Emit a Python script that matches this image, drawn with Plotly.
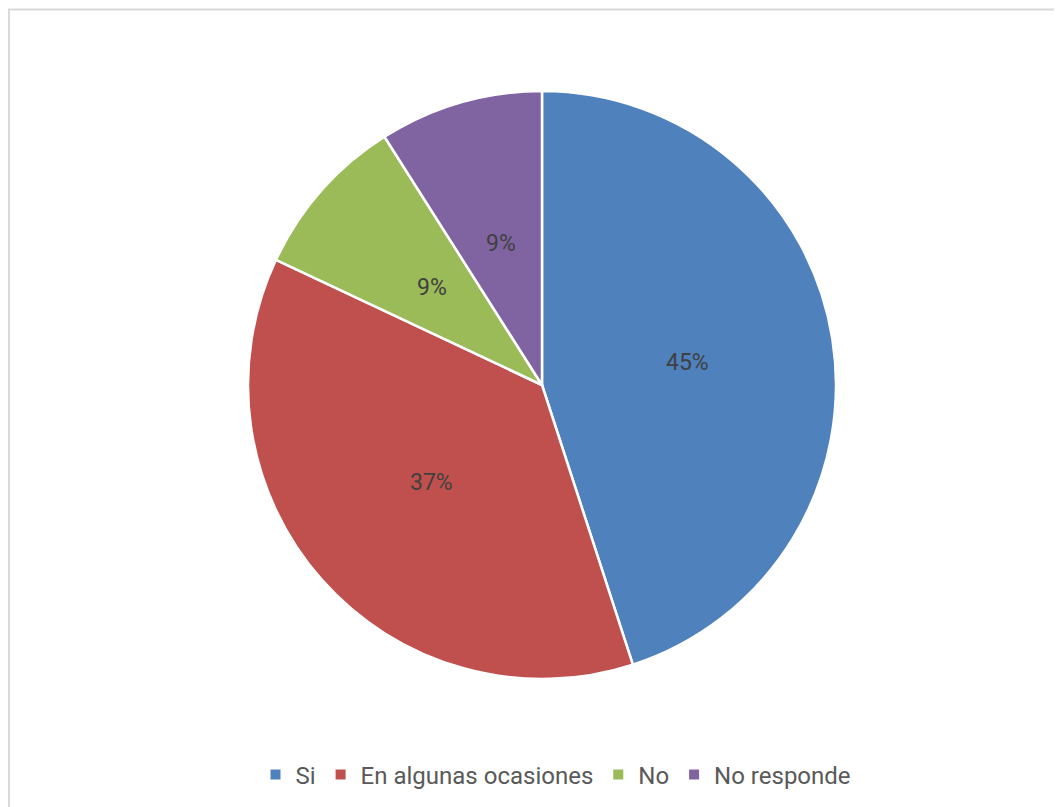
import math
import plotly.graph_objects as go

categories = ["Si", "En algunas ocasiones", "No", "No responde"]
values = [45, 37, 9, 9]
colors = ["#4F81BD", "#C0504D", "#9BBB59", "#8064A2"]

# page body has an 8px margin, so the figure is drawn 8px in from the window edge
OFF = 8
W, H = 1062 - OFF, 807 - OFF
cx, cy, r = 542 - OFF, 385 - OFF, 294
dom_x = [(cx - r) / W, (cx + r) / W]
dom_y = [1 - (cy + r) / H, 1 - (cy - r) / H]

fig = go.Figure(go.Pie(
    labels=categories,
    values=values,
    sort=False,
    direction="clockwise",
    rotation=0,
    marker=dict(colors=colors, line=dict(color="white", width=2.5)),
    textinfo="none",
    hoverinfo="label+percent",
    domain=dict(x=dom_x, y=dom_y),
))

total = sum(values)
cum = 0
for v in values:
    mid = (cum + v / 2) / total * 2 * math.pi
    cum += v
    px = cx + 0.5 * r * math.sin(mid)
    py = cy - 0.5 * r * math.cos(mid)
    fig.add_annotation(
        x=px / W, y=1 - py / H, xref="paper", yref="paper",
        xanchor="center", yanchor="middle",
        text=f"{round(v / total * 100)}%", showarrow=False,
        font=dict(family="Roboto", size=23, color="#404040"),
    )

fig.add_shape(type="rect", xref="paper", yref="paper",
              x0=1 / W, y0=-0.05, x1=1.05, y1=1 - 1.5 / H,
              line=dict(color="#D9D9D9", width=2), fillcolor="rgba(0,0,0,0)")

fig.update_layout(
    width=W, height=H,
    margin=dict(l=0, r=0, t=0, b=0),
    paper_bgcolor="white",
    plot_bgcolor="white",
    font=dict(family="Roboto", color="#595959"),
    showlegend=True,
    legend=dict(orientation="h", x=(556 - OFF) / W, xanchor="center",
                y=1 - (775 - OFF) / H, yanchor="middle",
                font=dict(family="Roboto", size=24, color="#595959"),
                itemsizing="constant", traceorder="normal"),
)

fig.write_html("out.html")
